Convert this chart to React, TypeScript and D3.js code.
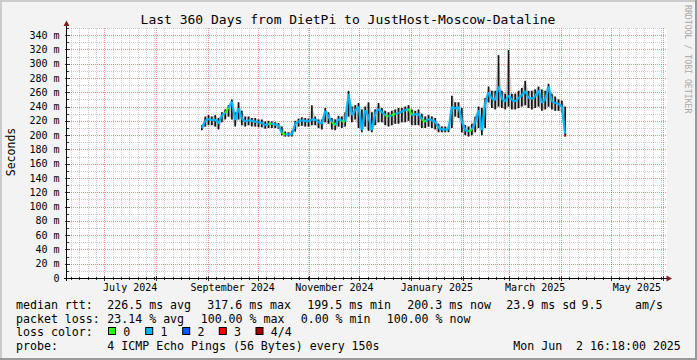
import * as d3 from 'd3'

// SmokePing 360-day graph, DietPi -> JustHost-Moscow-Dataline
// Values, one sample every 2 days from late Aug 2024.

const T_START = new Date(2024, 5, 7, 16, 18)
const T_END = new Date(2025, 5, 2, 16, 18)
const DATA_START = new Date(2024, 7, 28, 12)
const STEP_DAYS = 2

// median rtt (ms)
const median = [
  210, 220, 223, 221, 222, 216, 228, 231, 238, 247,
  221, 238, 223, 219, 221, 220, 219, 218, 217, 214,
  216, 216, 215, 214, 203, 201, 201, 201, 216, 219,
  221, 220, 219, 222, 222, 218, 216, 234, 226, 218,
  214, 223, 220, 219, 257, 228, 235, 240, 207, 235,
  226, 207, 230, 237, 232, 228, 226, 228, 230, 231,
  233, 235, 237, 228, 229, 230, 222, 219, 223, 221,
  219, 210, 208, 208, 208, 240, 237, 240, 219, 207,
  205, 208, 218, 235, 207, 244, 260, 251, 249, 268,
  251, 247, 256, 249, 247, 252, 256, 262, 252, 251,
  254, 263, 245, 250, 268, 247, 245, 244, 240, 200,
]

// smoke upper edge (ms)
const hi = [
  214, 226, 228, 226, 228, 224, 232, 236, 242, 250,
  232, 246, 234, 226, 226, 224, 224, 222, 222, 219,
  220, 219, 218, 217, 212, 205, 204, 206, 220, 223,
  225, 224, 223, 242, 226, 222, 222, 238, 232, 224,
  222, 227, 226, 232, 262, 240, 242, 245, 236, 240,
  246, 232, 236, 245, 238, 234, 232, 234, 236, 238,
  238, 240, 242, 236, 234, 236, 230, 226, 228, 226,
  224, 216, 212, 212, 212, 255, 246, 246, 238, 214,
  212, 216, 226, 240, 238, 252, 268, 262, 262, 312,
  262, 258, 319, 258, 258, 262, 266, 276, 262, 262,
  264, 268, 264, 262, 272, 258, 254, 250, 248, 240,
]

// smoke lower edge (ms)
const lo = [
  207, 212, 214, 214, 212, 208, 218, 222, 226, 222,
  212, 222, 214, 212, 214, 212, 212, 211, 211, 209,
  210, 210, 210, 209, 200, 198, 198, 198, 205, 212,
  213, 212, 212, 214, 214, 210, 208, 218, 216, 208,
  207, 212, 210, 212, 226, 218, 222, 210, 204, 212,
  206, 204, 214, 218, 218, 214, 212, 214, 216, 216,
  218, 218, 220, 214, 214, 214, 210, 210, 212, 210,
  208, 204, 204, 204, 204, 210, 226, 224, 204, 200,
  198, 200, 204, 210, 200, 210, 246, 238, 236, 240,
  238, 236, 240, 236, 236, 238, 240, 242, 238, 236,
  238, 240, 234, 236, 240, 236, 234, 234, 232, 200,
]

// lost pings out of 4
const loss = [
  1, 1, 1, 1, 1, 1, 1, 0, 1, 1,
  1, 1, 1, 1, 1, 1, 1, 1, 1, 1,
  0, 1, 1, 1, 0, 1, 1, 1, 1, 1,
  1, 1, 1, 1, 1, 1, 1, 1, 1, 0,
  1, 1, 0, 1, 1, 1, 1, 1, 1, 1,
  1, 1, 1, 1, 1, 0, 1, 0, 1, 1,
  1, 1, 0, 1, 1, 1, 0, 1, 1, 1,
  1, 1, 1, 1, 1, 1, 1, 1, 1, 1,
  0, 1, 1, 1, 1, 1, 1, 1, 1, 1,
  1, 1, 1, 1, 1, 1, 1, 1, 1, 1,
  1, 1, 1, 1, 1, 1, 1, 1, 1, 4,
]

const LOSS_COLORS = ['#26ff00', '#00b8ff', '#0059ff', '#ff0000', '#a00000']
const LOSS_LABELS = ['0', '1', '2', '3', '4/4']

const X_LABELS = ['July 2024', 'September 2024', 'November 2024', 'January 2025', 'March 2025', 'May 2025']
const X_LABEL_MONTHS = [
  new Date(2024, 6, 1), new Date(2024, 8, 1), new Date(2024, 10, 1),
  new Date(2025, 0, 1), new Date(2025, 2, 1), new Date(2025, 4, 1),
]

const RTT_ITEMS = ['226.5 ms avg', '317.6 ms max', '199.5 ms min', '200.3 ms now', '23.9 ms sd', '9.5', 'am/s']
const LOSS_ITEMS = ['23.14 % avg', '100.00 % max', '0.00 % min', '100.00 % now']
const TITLE = 'Last 360 Days from DietPi to JustHost-Moscow-Dataline'
const PROBE = '4 ICMP Echo Pings (56 Bytes) every 150s'
const STAMP = 'Mon Jun  2 16:18:00 2025'

const W = 697
const H = 360
const PLOT = { left: 67, right: 667, top: 28, bottom: 278 }
const RTT_X = [107.3, 207.3, 307.3, 407.3, 506.3, 581.5, 635]
const LOSS_X = [107.3, 200.7, 300.7, 386.7]
const BOX_X = [108.5, 145.7, 182.7, 219.3, 256]
const FONT = "'DejaVu Sans Mono', monospace"

export default function App() {
  const x = d3.scaleTime().domain([T_START, T_END]).range([65.5, 665.5])
  const y = d3.scaleLinear().domain([0, 350]).range([PLOT.bottom, PLOT.top])
  const dates = median.map((_, i) => d3.timeHour.offset(DATA_START, i * STEP_DAYS * 24))
  const px = (i: number) => x(dates[i])

  const yMinor = d3.range(10, 351, 10).filter((v) => v % 20 !== 0)
  const yMajor = d3.range(20, 341, 20)
  const months = d3.timeMonth.range(T_START, T_END)
  const xMinor = d3.timeDay.every(5)!.range(T_START, T_END).filter((d) => d.getDate() !== 1)

  const smoke = d3
    .area<number>()
    .x((i) => px(i))
    .y0((i) => y(lo[i]))
    .y1((i) => y(hi[i]))
  const idx = d3.range(median.length)

  return (
    <svg width={W} height={H} style={{ position: 'absolute', left: 0, top: 0 }} fontFamily={FONT}>
      <rect width={W} height={H} fill="#f3f3f3" />
      <rect x={0} y={0} width={W} height={2} fill="#cbcbcb" />
      <rect x={0} y={0} width={2} height={H} fill="#cbcbcb" />
      <rect x={0} y={H - 2} width={W} height={2} fill="#999" />
      <rect x={W - 2} y={0} width={2} height={H} fill="#999" />
      <rect x={PLOT.left} y={PLOT.top} width={PLOT.right - PLOT.left} height={PLOT.bottom - PLOT.top} fill="#fff" />

      <text x={348} y={23.5} fontSize={13} textAnchor="middle" fill="#000">{TITLE}</text>

      {/* grid */}
      <g strokeDasharray="1,1" strokeWidth={1}>
        {xMinor.map((d) => (
          <line key={+d} x1={Math.round(x(d)) + 0.5} x2={Math.round(x(d)) + 0.5} y1={PLOT.top} y2={PLOT.bottom} stroke="#8f8f8f" strokeOpacity={0.45} />
        ))}
        {yMinor.map((v) => (
          <line key={v} x1={PLOT.left} x2={PLOT.right} y1={Math.round(y(v)) + 0.5} y2={Math.round(y(v)) + 0.5} stroke="#8f8f8f" strokeOpacity={0.45} />
        ))}
        {months.map((d) => (
          <line key={+d} x1={Math.round(x(d)) + 0.5} x2={Math.round(x(d)) + 0.5} y1={PLOT.top} y2={PLOT.bottom} stroke="#de5050" strokeOpacity={0.65} />
        ))}
        {yMajor.map((v) => (
          <line key={v} x1={PLOT.left} x2={PLOT.right} y1={Math.round(y(v)) + 0.5} y2={Math.round(y(v)) + 0.5} stroke="#de5050" strokeOpacity={0.65} />
        ))}
      </g>

      {/* data: smoke, spikes, median coloured by loss */}
      <g>
        <path d={smoke(idx) ?? ''} fill="#8a8a8a" fillOpacity={0.4} />
        {idx.map((i) => (
          <line key={i} x1={px(i)} x2={px(i)} y1={y(lo[i])} y2={y(hi[i])} stroke="#161616" strokeWidth={1.7} />
        ))}
        {idx.slice(0, -1).map((i) => (
          <line
            key={i}
            x1={px(i)}
            y1={y(median[i])}
            x2={px(i + 1)}
            y2={y(median[i + 1])}
            stroke={LOSS_COLORS[loss[i]]}
            strokeWidth={2.2}
          />
        ))}
        <rect x={px(median.length - 1) - 1} y={y(median[median.length - 1]) - 1.5} width={2} height={3} fill={LOSS_COLORS[4]} />
      </g>

      {/* axes */}
      <g stroke="#333" strokeWidth={1}>
        {xMinor.map((d) => (
          <line key={+d} x1={Math.round(x(d)) + 0.5} x2={Math.round(x(d)) + 0.5} y1={PLOT.bottom - 1} y2={PLOT.bottom + 2} />
        ))}
        {months.map((d) => (
          <line key={+d} x1={Math.round(x(d)) + 0.5} x2={Math.round(x(d)) + 0.5} y1={PLOT.bottom - 2} y2={PLOT.bottom + 3} />
        ))}
        {yMinor.map((v) => (
          <line key={v} x1={PLOT.left - 1} x2={PLOT.left + 2} y1={Math.round(y(v)) + 0.5} y2={Math.round(y(v)) + 0.5} />
        ))}
        {[0, ...yMajor].map((v) => (
          <line key={v} x1={PLOT.left - 2} x2={PLOT.left + 3} y1={Math.round(y(v)) + 0.5} y2={Math.round(y(v)) + 0.5} />
        ))}
      </g>
      <line x1={PLOT.left - 0.5} x2={PLOT.left - 0.5} y1={PLOT.bottom + 3} y2={24} stroke="#000" />
      <line x1={PLOT.left - 3} x2={669} y1={PLOT.bottom + 0.5} y2={PLOT.bottom + 0.5} stroke="#000" />
      <path d={`M${PLOT.left - 0.5},20.5 L${PLOT.left - 3.5},26 L${PLOT.left + 2.5},26 Z`} fill="#7f1f1f" />
      <path d={`M672,${PLOT.bottom + 0.5} L666.5,${PLOT.bottom - 2.5} L666.5,${PLOT.bottom + 3.5} Z`} fill="#7f1f1f" />

      {/* tick labels */}
      <g fontSize={10} fill="#000">
        {[0, ...yMajor].map((v) => (
          <text key={v} x={59.5} y={y(v) + 3.6} textAnchor="end">
            {v === 0 ? '0' : `${v} m`}
          </text>
        ))}
        {X_LABEL_MONTHS.map((m, i) => (
          <text key={i} x={(x(m) + x(d3.timeMonth.offset(m, 1))) / 2} y={290.5} textAnchor="middle">
            {X_LABELS[i]}
          </text>
        ))}
      </g>
      <text transform="translate(15,152) rotate(-90)" fontSize={11.5} textAnchor="middle" fill="#000">Seconds</text>
      <text transform="translate(684.5,5) rotate(90)" fontSize={8.2} fill="#a8a8a8">RRDTOOL / TOBI OETIKER</text>

      {/* legend */}
      <g fontSize={11.6} fill="#000">
        <text x={16} y={308.5}>median rtt:</text>
        {RTT_ITEMS.map((t, i) => (
          <text key={t} x={RTT_X[i]} y={308.5}>{t}</text>
        ))}
        <text x={16} y={322.5}>packet loss:</text>
        {LOSS_ITEMS.map((t, i) => (
          <text key={t} x={LOSS_X[i]} y={322.5}>{t}</text>
        ))}
        <text x={16} y={336}>loss color:</text>
        {LOSS_LABELS.map((t, i) => (
          <g key={t}>
            <rect x={BOX_X[i]} y={327.5} width={7} height={7} fill={LOSS_COLORS[i]} stroke="#000" />
            <text x={BOX_X[i] + 14.8} y={336}>{t}</text>
          </g>
        ))}
        <text x={16} y={350.2}>probe:</text>
        <text x={107.3} y={350.2}>{PROBE}</text>
        <text x={513.3} y={350.2} xmlSpace="preserve">{STAMP}</text>
      </g>
    </svg>
  )
}
